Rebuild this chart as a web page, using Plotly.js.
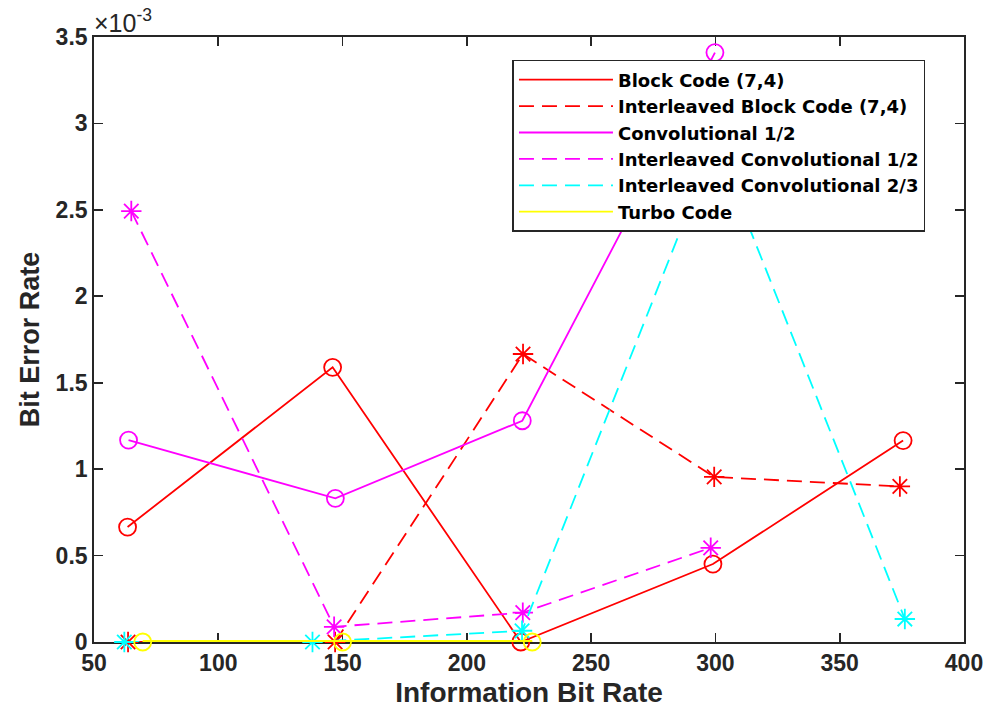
<!DOCTYPE html>
<html>
<head>
<meta charset="utf-8">
<script src="https://cdn.plot.ly/plotly-3.0.1.min.js"></script>
<style>html,body{margin:0;padding:0;background:#fff;}#chart{width:990px;height:715px;}</style>
</head>
<body>
<div id="chart"></div>
<script>
// Values; BER values are in units of 1e-3
var seriesNames = ["Block Code (7,4)", "Interleaved Block Code (7,4)", "Convolutional 1/2",
  "Interleaved Convolutional 1/2", "Interleaved Convolutional 2/3", "Turbo Code"];

var blockX = [63.5, 146, 221.7, 299, 375.5];
var blockY = [0.665, 1.589, 0.0, 0.451, 1.165];

var ilBlockX = [63.7, 147, 222.6, 299.5, 374.2];
var ilBlockY = [0.0, 0.0, 1.666, 0.955, 0.9];

var convX = [63.9, 147.1, 222.3, 299.8];
var convY = [1.168, 0.831, 1.28, 3.41];

var ilConvX = [65, 146.6, 222.5, 298.1];
var ilConvY = [2.493, 0.088, 0.17, 0.545];

var ilConv23X = [62.2, 137.9, 222.2, 300, 376.2];
var ilConv23Y = [0.0, 0.0, 0.065, 2.89, 0.133];

var turboX = [69.6, 150, 226.3];
var turboY = [0.0, 0.0, 0.0];

var xTicks = [50, 100, 150, 200, 250, 300, 350, 400];
var yTicks = [0, 0.5, 1, 1.5, 2, 2.5, 3, 3.5];

var RED = "#FF0000", MAG = "#FF00FF", CYAN = "#00FFFF", YEL = "#FFFF00";
var DASH = "15px,8px";

function lineTrace(x, y, name, color, dash, grp, w, legend) {
  return {x: x, y: y, name: name, type: "scatter", mode: "lines", legendgroup: grp, cliponaxis: false,
    showlegend: legend !== false,
    line: {color: color, width: w || 1.8, dash: dash}, hoverinfo: "x+y"};
}
function markerTrace(x, y, color, symbol, grp) {
  return {x: x, y: y, type: "scatter", mode: "markers", showlegend: false, legendgroup: grp, cliponaxis: false,
    marker: {symbol: symbol, size: 17, color: color, line: {color: color, width: 1.8}},
    hoverinfo: "x+y"};
}

var data = [
  lineTrace(blockX, blockY, seriesNames[0], RED, "solid", "g0"),
  markerTrace(blockX, blockY, RED, "circle-open", "g0"),
  lineTrace(ilBlockX, ilBlockY, seriesNames[1], RED, DASH, "g1"),
  markerTrace(ilBlockX, ilBlockY, RED, "asterisk-open", "g1"),
  lineTrace(convX, convY, seriesNames[2], MAG, "solid", "g2"),
  markerTrace(convX, convY, MAG, "circle-open", "g2"),
  lineTrace(ilConvX, ilConvY, seriesNames[3], MAG, DASH, "g3"),
  markerTrace(ilConvX, ilConvY, MAG, "asterisk-open", "g3"),
  lineTrace(ilConv23X, ilConv23Y, seriesNames[4], CYAN, DASH, "g4"),
  markerTrace(ilConv23X, ilConv23Y, CYAN, "asterisk-open", "g4"),
  lineTrace(turboX, turboY, seriesNames[5], YEL, "solid", "g5"),
  // same Turbo data drawn thicker so the half lying on the axis edge stays visible
  lineTrace(turboX, turboY, seriesNames[5], YEL, "solid", "g5", 4, false),
  markerTrace(turboX, turboY, YEL, "circle-open", "g5")
];

var AX = "#262626";
var FONT = "Liberation Sans, Arial, sans-serif";

var layout = {
  width: 990, height: 715,
  margin: {l: 94, r: 26, t: 37, b: 73, pad: 0},
  paper_bgcolor: "#ffffff", plot_bgcolor: "#ffffff",
  showlegend: true,
  xaxis: {
    range: [50, 400], tickvals: xTicks, ticktext: xTicks.map(String),
    showgrid: false, zeroline: false, showline: true, mirror: "ticks", layer: "below traces",
    linecolor: AX, linewidth: 1.8, ticks: "inside", ticklen: 9, tickwidth: 1.8, tickcolor: AX,
    tickfont: {family: FONT, size: 23, color: AX, weight: "bold"},
    title: {text: "Information Bit Rate", font: {family: FONT, size: 28, color: AX, weight: "bold"}, standoff: 7}
  },
  yaxis: {
    range: [0, 3.5], tickvals: yTicks, ticktext: yTicks.map(String),
    showgrid: false, zeroline: false, showline: true, mirror: "ticks", layer: "below traces",
    linecolor: AX, linewidth: 1.8, ticks: "inside", ticklen: 9, tickwidth: 1.8, tickcolor: AX,
    tickfont: {family: FONT, size: 23, color: AX, weight: "bold"},
    title: {text: "Bit Error Rate", font: {family: FONT, size: 27, color: AX, weight: "bold"}, standoff: 8}
  },
  legend: {
    x: 0.481, y: 0.962, xanchor: "left", yanchor: "top",
    bgcolor: "#ffffff", bordercolor: AX, borderwidth: 1.5,
    font: {family: "DejaVu Sans, Liberation Sans, sans-serif", size: 18, color: "#000000", weight: "bold"},
    traceorder: "grouped", tracegroupgap: 0, itemwidth: 94
  },
  annotations: [{
    xref: "paper", yref: "paper", x: 0, y: 1, xanchor: "left", yanchor: "bottom",
    text: "\u00d710<sup>-3</sup>", showarrow: false, yshift: -2, xshift: -2,
    font: {family: FONT, size: 25, color: AX}
  }]
};

Plotly.newPlot("chart", data, layout, {displayModeBar: false, staticPlot: true});
</script>
</body>
</html>
